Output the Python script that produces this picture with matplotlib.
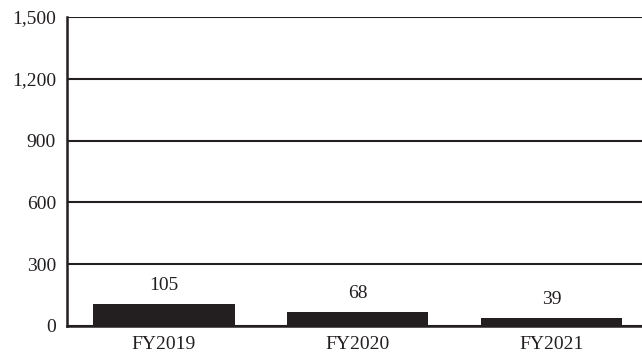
import matplotlib
matplotlib.use("Agg")
import matplotlib.pyplot as plt

# data
years = ["FY2019", "FY2020", "FY2021"]
values = [105, 68, 39]
yticks = [0, 300, 600, 900, 1200, 1500]
ink = "#231f20"

plt.rcParams["font.family"] = ["Liberation Serif", "DejaVu Serif"]

fig = plt.figure(figsize=(6.42, 3.53), dpi=100)
ax = fig.add_axes([67 / 642, 1 - 326 / 353, 1 - 67 / 642 + 0.01, 309 / 353])

x = range(len(years))
bars = ax.bar(x, values, width=0.73, color=ink, zorder=3)
for xi, v in zip(x, values):
    ax.text(xi, v + 50, str(v), ha="center", va="bottom", fontsize=14, color=ink)

ax.set_xlim(-0.5, 2.5)
ax.set_ylim(0, 1500)
ax.set_yticks(yticks)
ax.set_yticklabels([f"{t:,}" for t in yticks], fontsize=14, color=ink)
ax.set_xticks(list(x))
ax.set_xticklabels(years, fontsize=14, color=ink)
ax.tick_params(axis="y", length=0, pad=8)
ax.tick_params(axis="x", length=0, pad=7)
ax.grid(axis="y", color=ink, linewidth=1.5, zorder=1)
for s in ["top", "right"]:
    ax.spines[s].set_visible(False)
for s in ["left", "bottom"]:
    ax.spines[s].set_color(ink)
    ax.spines[s].set_linewidth(1.8)

fig.savefig("out.png", dpi=100)
